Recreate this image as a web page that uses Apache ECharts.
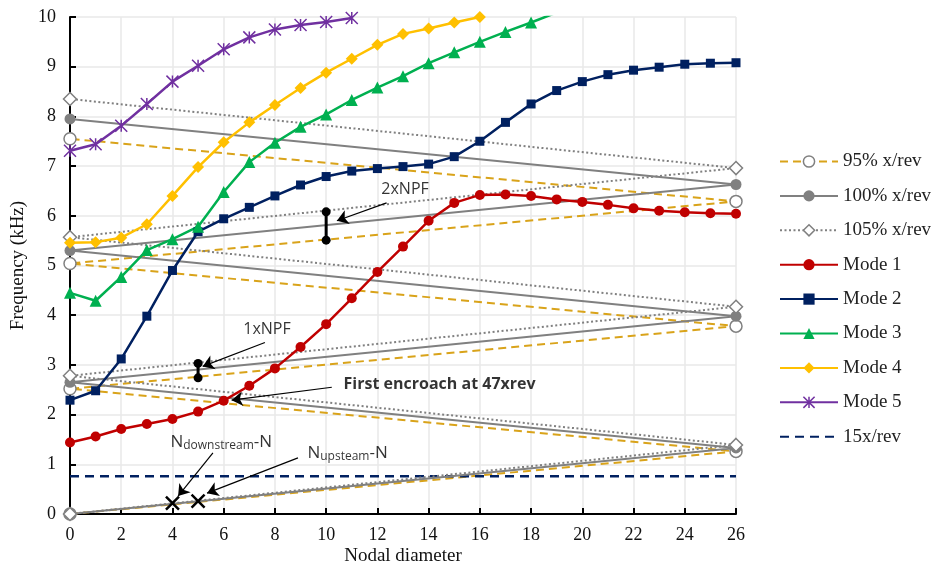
<!DOCTYPE html>
<html><head><meta charset="utf-8">
<script src="https://cdn.jsdelivr.net/npm/echarts@6/dist/echarts.min.js"></script>
<style>html,body{margin:0;padding:0;background:#fff}#c{width:933px;height:573px}</style>
</head><body><div id="c"></div>
<script>
// ---------------- data ----------------
const nodalDiameters = [0,1,2,3,4,5,6,7,8,9,10,11,12,13,14,15,16,17,18,19,20,21,22,23,24,25,26];
const mode1 = [1.44,1.56,1.71,1.81,1.91,2.06,2.28,2.58,2.93,3.36,3.82,4.34,4.87,5.38,5.90,6.26,6.42,6.43,6.40,6.33,6.28,6.22,6.15,6.10,6.07,6.05,6.04];
const mode2 = [2.29,2.48,3.12,3.98,4.90,5.68,5.94,6.17,6.40,6.62,6.79,6.90,6.95,6.99,7.04,7.19,7.50,7.88,8.25,8.52,8.70,8.84,8.93,8.99,9.05,9.07,9.08];
const mode3 = [4.45,4.29,4.77,5.31,5.53,5.78,6.48,7.08,7.47,7.79,8.04,8.33,8.58,8.81,9.07,9.29,9.50,9.70,9.89,10.09];
const mode4 = [5.46,5.47,5.56,5.83,6.40,6.98,7.48,7.88,8.23,8.57,8.88,9.16,9.44,9.66,9.77,9.89,10.00];
const mode5 = [7.31,7.44,7.81,8.25,8.70,9.02,9.35,9.59,9.75,9.84,9.90,9.98];
// engine-order zig-zag lines (nodal diameter of each vertex, frequency)
const xrevND  = [0,26,0,26,0,26,0];
const xrev95  = [0,1.26,2.52,3.78,5.04,6.29,7.55];
const xrev100 = [0,1.33,2.65,3.98,5.30,6.63,7.95];
const xrev105 = [0,1.39,2.78,4.17,5.57,6.96,8.35];
const fifteenND = [0,26];
const fifteenXrev = [0.76,0.76];
// annotations
const npf1ND = [5,5];      const npf1Freq = [2.74,3.03];
const npf2ND = [10,10];    const npf2Freq = [5.51,6.08];
const crossND = [4,5];     const crossFreq = [0.22,0.26];
// arrows: [fromND, fromFreq, toND, toFreq]
const arrows = [
  [12.36,6.26,10.42,5.90],
  [7.61,3.45,5.18,2.97],
  [10.22,2.55,6.31,2.29],
  [5.58,1.23,4.22,0.36],
  [8.90,1.13,5.35,0.42]
];
const legendNames = ['95% x/rev','100% x/rev','105% x/rev','Mode 1','Mode 2','Mode 3','Mode 4','Mode 5','15x/rev'];

// ---------------- chart ----------------
const pair = (xs, ys) => ys.map((v,i)=>[xs[i], v]);
const SERIF = "'Liberation Serif','Times New Roman',serif";
const SANS = "'Open Sans','Liberation Sans',sans-serif";
const grey = '#808080', gold = '#D9A31A';
const ASTER = 'path://M10,0 L10,20 M0,0 L20,20 M0,20 L20,0';
const CROSS = 'path://M0,0 L10,10 M10,0 L0,10';

function modeSeries(name, ys, color, symbol, size, extra){
  return Object.assign({
    name, type:'line', data: pair(nodalDiameters, ys), symbol, symbolSize:size,
    lineStyle:{color, width:2.5}, itemStyle:{color, borderColor:color, borderWidth:0}, z:5
  }, extra||{});
}
function legendItem(n){
  if (n==='Mode 5') return {name:n, itemStyle:{borderColor:'#7030A0', borderWidth:1.5}};
  if (n==='95% x/rev' || n==='105% x/rev') return {name:n, itemStyle:{borderColor:grey, borderWidth:1.5, color:'#fff'}};
  if (n==='15x/rev') return {name:n, itemStyle:{opacity:0}};
  return n;
}
const subRich = {
  n:{fontFamily:SANS, fontSize:17, color:'#000', lineHeight:20, verticalAlign:'middle'},
  s:{fontFamily:SANS, fontSize:12, color:'#000', lineHeight:12, verticalAlign:'bottom'}
};

const chart = echarts.init(document.getElementById('c'), null, {renderer:'canvas'});
const option = {
  animation:false,
  backgroundColor:'#fff',
  grid:{left:70, right:197, top:17, bottom:59},
  xAxis:{type:'value', min:0, max:26, interval:2,
    name:'Nodal diameter', nameLocation:'middle', nameGap:33, nameMoveOverlap:false,
    nameTextStyle:{fontFamily:SERIF, fontSize:19, color:'#111'},
    axisLine:{lineStyle:{color:'#000', width:2}},
    axisTick:{inside:true, length:6, lineStyle:{color:'#000', width:2}},
    axisLabel:{fontFamily:SERIF, fontSize:18, color:'#111', margin:12},
    splitLine:{show:true, lineStyle:{color:'#E8E8E8', width:1.5}}},
  yAxis:{type:'value', min:0, max:10, interval:1,
    name:'Frequency (kHz)', nameLocation:'middle', nameGap:42, nameMoveOverlap:false,
    nameTextStyle:{fontFamily:SERIF, fontSize:19, color:'#111'},
    axisLine:{show:true, lineStyle:{color:'#000', width:2}},
    axisTick:{show:true, inside:true, length:6, lineStyle:{color:'#000', width:2}},
    axisLabel:{fontFamily:SERIF, fontSize:18, color:'#111', margin:14},
    splitLine:{show:true, lineStyle:{color:'#E8E8E8', width:1.5}}},
  legend:{orient:'vertical', left:774, top:147, itemWidth:58, itemHeight:14, itemGap:15.4,
    textStyle:{fontFamily:SERIF, fontSize:19, color:'#222'},
    data: legendNames.map(legendItem)},
  series:[
    {name:'95% x/rev', type:'line', data:pair(xrevND, xrev95), symbol:'circle', symbolSize:12,
      lineStyle:{color:gold, width:2, type:[8,5]}, itemStyle:{color:'#fff', borderColor:grey, borderWidth:1.5}, z:2},
    {name:'100% x/rev', type:'line', data:pair(xrevND, xrev100), symbol:'circle', symbolSize:11,
      lineStyle:{color:grey, width:2}, itemStyle:{color:grey}, z:3},
    {name:'105% x/rev', type:'line', data:pair(xrevND, xrev105), symbol:'diamond', symbolSize:13,
      lineStyle:{color:grey, width:2, type:[2,2.5]}, itemStyle:{color:'#fff', borderColor:grey, borderWidth:1.5}, z:4},
    modeSeries('Mode 1', mode1, '#C00000', 'circle', 10),
    modeSeries('Mode 2', mode2, '#002060', 'rect', 9),
    modeSeries('Mode 3', mode3, '#00B050', 'triangle', 12),
    modeSeries('Mode 4', mode4, '#FFC000', 'diamond', 12),
    modeSeries('Mode 5', mode5, '#7030A0', ASTER, 12, {itemStyle:{color:'#7030A0', borderColor:'#7030A0', borderWidth:1.5}}),
    {name:'15x/rev', type:'line', data:pair(fifteenND, fifteenXrev), symbol:'none',
      lineStyle:{color:'#002060', width:2.5, type:[9,6]}, itemStyle:{color:'#002060'}, z:2},
    {name:'npf1', type:'line', data:pair(npf1ND, npf1Freq), symbol:'circle', symbolSize:9,
      lineStyle:{color:'#000', width:3}, itemStyle:{color:'#000'}, z:8},
    {name:'npf2', type:'line', data:pair(npf2ND, npf2Freq), symbol:'circle', symbolSize:9,
      lineStyle:{color:'#000', width:3}, itemStyle:{color:'#000'}, z:8},
    {name:'cross', type:'scatter', data:pair(crossND, crossFreq), symbol:CROSS, symbolSize:13,
      itemStyle:{color:'none', borderColor:'#000', borderWidth:2.5, opacity:1}, z:9,
      markLine:{silent:true, animation:false, symbol:['none','arrow'], symbolSize:11,
        lineStyle:{color:'#000', width:1.2, type:'solid'}, label:{show:false},
        emphasis:{disabled:true},
        data: arrows.map(a=>[{coord:[a[0],a[1]]},{coord:[a[2],a[3]]}])}},
    {name:'labels', type:'scatter', symbolSize:1, itemStyle:{color:'rgba(0,0,0,0)'}, z:10, silent:true,
      label:{show:true, color:'#000', fontFamily:SANS, fontSize:16},
      data:[
        {value:[13.08,6.54], label:{position:'inside', formatter:'2xNPF'}},
        {value:[7.69,3.72], label:{position:'inside', formatter:'1xNPF'}},
        {value:[10.66,2.60], label:{position:'right', distance:0, fontWeight:'bold', formatter:'First encroach at 47xrev'}},
        {value:[3.90,1.45], label:{position:'right', distance:0, formatter:'{n|N}{s|downstream}{n|-N}', rich:subRich}},
        {value:[9.25,1.23], label:{position:'right', distance:0, formatter:'{n|N}{s|upsteam}{n|-N}', rich:subRich}}
      ]}
  ]
};
chart.setOption(option);
</script></body></html>
